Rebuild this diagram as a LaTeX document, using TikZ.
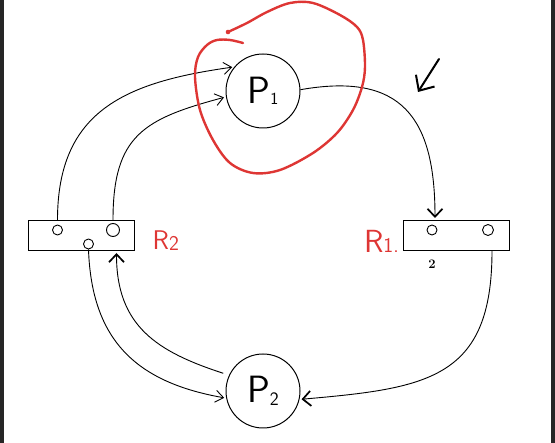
\documentclass[tikz,border=0pt]{standalone}
\usepackage{amsmath,amssymb}
\usepackage{color}
\usetikzlibrary{calc,positioning}
\usepgflibrary{arrows.meta}
\definecolor{penred}{RGB}{222,54,52}

\begin{document}
\begin{tikzpicture}
    [x=1pt, y=-1pt,
    flow/.style={line width=0.9pt, shorten >=2pt, -{Straight Barb[length=8pt, width=12pt, line width=0.9pt]}},
    hflow/.style={line width=0.9pt, shorten >=2pt, -{Straight Barb[length=8pt, width=15pt, line width=1.7pt]}},
    proc/.style={circle, draw, line width=1pt, minimum size=74pt, inner sep=0pt, font=\fontsize{38}{38}\selectfont\sffamily},
    res/.style={draw, line width=1pt, minimum width=106pt, minimum height=30pt, inner sep=0pt},
    tok/.style={circle, draw, line width=0.9pt, minimum size=10pt, inner sep=0pt},
    lab/.style={text=penred, inner sep=0pt, font=\fontsize{27}{27}\selectfont\sffamily}]
        \useasboundingbox (0,0) rectangle (555,443);
        \fill[black!85] (0,0) rectangle (4,443);
        \fill[black!85] (551,0) rectangle (555,443);

        \node[proc] (P1) at (263,91) {P\raisebox{-1pt}{\fontsize{17}{17}\selectfont 1}};
        \node[proc] (P2) at (263,391) {P\raisebox{-3pt}{\fontsize{19}{19}\selectfont 2}};
        \node[res] (R2) at (81,235.5) {};
        \node[res] (R1) at (456.5,235.5) {};
        \node[tok] (t21) at (57.5,230) {};
        \node[tok, minimum size=13pt] (t22) at (113,230) {};
        \node[tok] (t23) at (88.5,244) {};
        \node[tok] (t11) at (432,230) {};
        \node[tok, minimum size=11pt] (t12) at (488,230) {};
        \node[lab, right=18pt of R2, yshift=-5pt] (l2) {R\raisebox{-1pt}{\fontsize{21}{21}\selectfont 2}};
        \node[lab, left=4pt of R1, yshift=-6pt, font=\fontsize{32}{32}\selectfont\sffamily] (l1) {R{\fontsize{21}{21}\selectfont 1.}};
        \node[font=\bfseries\fontsize{13}{13}\selectfont] (n2) at (432,264) {2};

        \draw[flow] (t21 |- R2.north) to[out=90, in=188, looseness=1.2] (P1.140);
        \draw[flow] (t22 |- R2.north) to[out=90, in=195, looseness=1.3] (P1.189);
        \draw[hflow] (P1.2) to[out=10, in=90, looseness=1.4] ($(t11 |- R1.north)+(3,0)$);
        \draw[hflow] ($(R1.south east)+(-18,0)$) to[out=-90, in=5, looseness=1.35] (P2.-13);
        \draw[flow] (t23.south) to[out=-88, in=170, looseness=1.15] (P2.191);
        \draw[hflow, shorten <=6pt] (P2.155) to[out=162, in=-90, looseness=1.15] ($(R2.south east)+(-18,0)$);

        \draw[penred, line width=2.4pt, line cap=round] plot[smooth, tension=0.55] coordinates {(228,32) (247,23) (267,12) (290,3) (313,3) (340,15) (357,27) (363,40) (365,67) (362,87) (353,110) (337,133) (313,153) (280,170) (253,173) (230,163) (213,140) (200,110) (195,77) (198,57) (207,45) (217,40) (230,40) (243,43)};
        \fill[penred] (228,32) circle (2.3);

        \coordinate (mk1) at (439,59);
        \coordinate (mk2) at (418,92);
        \draw[line width=2pt, line cap=round, -{Straight Barb[length=12pt, width=22pt, line width=2pt]}] (mk1) -- (mk2);
\end{tikzpicture}
\end{document}
